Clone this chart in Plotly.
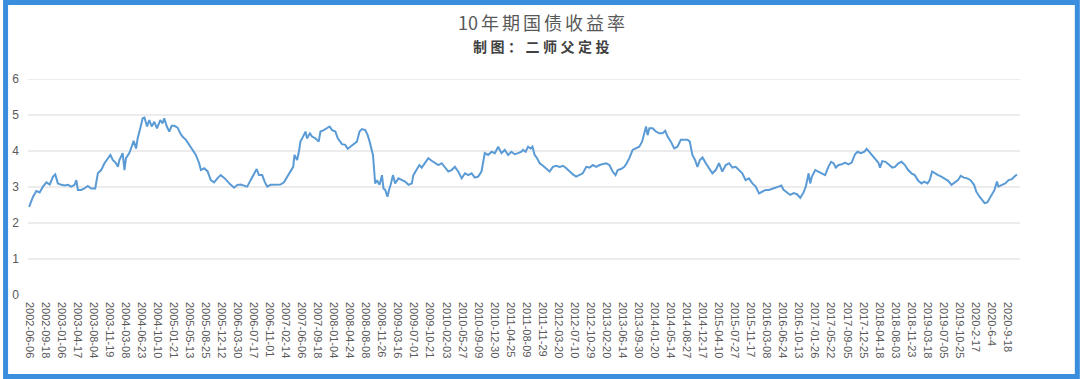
import plotly.graph_objects as go

# ---------------- data ----------------
tick_labels = [
    "2002-06-06", "2002-09-18", "2003-01-06", "2003-04-17", "2003-08-04", "2003-11-19",
    "2004-03-08", "2004-06-23", "2004-10-10", "2005-01-21", "2005-05-13", "2005-08-25",
    "2005-12-12", "2006-03-30", "2006-07-17", "2006-11-01", "2007-02-14", "2007-06-06",
    "2007-09-18", "2008-01-04", "2008-04-24", "2008-08-08", "2008-11-26", "2009-03-16",
    "2009-07-01", "2009-10-21", "2010-02-03", "2010-05-27", "2010-09-09", "2010-12-30",
    "2011-04-25", "2011-08-09", "2011-11-29", "2012-03-20", "2012-07-10", "2012-10-29",
    "2013-02-20", "2013-06-14", "2013-09-30", "2014-01-20", "2014-05-14", "2014-08-27",
    "2014-12-17", "2015-04-10", "2015-07-27", "2015-11-17", "2016-03-08", "2016-06-24",
    "2016-10-13", "2017-01-26", "2017-05-22", "2017-09-05", "2017-12-25", "2018-04-18",
    "2018-08-03", "2018-11-23", "2019-03-18", "2019-07-05", "2019-10-25", "2020-2-17",
    "2020-6-4", "2020-9-18",
]
label_step = 73  # trading days between labelled categories

trade_day = [
    0, 18, 33, 48, 63, 79, 94, 109, 119, 131, 147, 162, 177, 192, 207, 215, 222, 237, 252, 267,
    283, 301, 313, 328, 343, 358, 370, 381, 396, 404, 411, 426, 434, 441, 456, 464, 476, 487, 494, 506,
    517, 525, 537, 547, 558, 570, 582, 597, 608, 615, 627, 638, 649, 661, 676, 688, 698, 714, 729, 744,
    759, 774, 782, 797, 812, 827, 842, 857, 872, 887, 903, 918, 933, 948, 963, 978, 993, 1008, 1024, 1036,
    1046, 1061, 1072, 1084,
    1099, 1114, 1129, 1144, 1160, 1175, 1190, 1202, 1208, 1220, 1228, 1235, 1247, 1258, 1265, 1278, 1288,
    1303, 1318, 1326, 1341, 1356, 1368, 1379, 1394, 1405, 1414, 1424, 1439, 1450, 1462, 1477, 1492, 1504,
    1515, 1530, 1541, 1550, 1556, 1565, 1571, 1575, 1583, 1595, 1606, 1613, 1621, 1631, 1640, 1646, 1656,
    1666, 1681, 1696, 1711, 1727, 1742, 1749, 1764, 1776, 1787, 1802, 1817, 1832, 1848, 1863, 1878, 1893,
    1908, 1923, 1938, 1953, 1969, 1984, 1999, 2014, 2029, 2044, 2059, 2074, 2089, 2105, 2120, 2135, 2150,
    2165, 2180, 2195, 2210, 2226, 2241,
    2248, 2260, 2271, 2282, 2291, 2301, 2312, 2324, 2339, 2354, 2369, 2384, 2399, 2415, 2430, 2445, 2460,
    2475, 2490, 2505, 2520, 2536, 2551, 2566, 2581, 2596, 2611, 2626, 2641, 2656, 2669, 2679, 2694, 2709,
    2720, 2732, 2747, 2762, 2777, 2790, 2800, 2808, 2815, 2823, 2838, 2853, 2868, 2883, 2895, 2906, 2921,
    2936, 2951, 2966, 2982, 2997, 3007, 3019, 3031, 3042, 3053, 3065, 3080, 3095, 3110, 3125, 3140, 3155,
    3171, 3186, 3201, 3216, 3231, 3246, 3261, 3276, 3292, 3307, 3322, 3337, 3352, 3367,
    3381, 3396, 3411, 3424, 3434, 3449, 3464, 3480, 3495, 3510, 3525, 3535, 3548, 3555, 3563, 3578, 3593,
    3608, 3623, 3638, 3650, 3661, 3672, 3684, 3699, 3714, 3729, 3744, 3759, 3771, 3786, 3802, 3812, 3823,
    3835, 3850, 3865, 3873, 3883, 3898, 3913, 3929, 3941, 3956, 3971, 3986, 4001, 4016, 4031, 4047, 4062,
    4074, 4089, 4099, 4110, 4122, 4137, 4152, 4168, 4183, 4198, 4213, 4228, 4240, 4255, 4270, 4285, 4301,
    4311, 4326, 4337, 4349, 4361, 4372, 4382, 4394, 4405, 4412, 4428, 4443, 4458, 4473, 4485, 4496,
]

yield_pct = [
    2.45, 2.73, 2.89, 2.85, 3.01, 3.13, 3.07, 3.29, 3.35, 3.10, 3.06, 3.04, 3.06, 3.01, 3.06, 3.19, 2.92, 2.92, 2.96, 3.03,
    2.96, 2.96, 3.38, 3.47, 3.66, 3.80, 3.89, 3.75, 3.66, 3.56, 3.75, 3.94, 3.47, 3.80, 3.94, 4.07, 4.28, 4.07, 4.35, 4.63,
    4.91, 4.93, 4.68, 4.86, 4.68, 4.81, 4.63, 4.86, 4.77, 4.91, 4.68, 4.54, 4.70, 4.70, 4.65, 4.49, 4.40, 4.31, 4.17, 4.03,
    3.89, 3.66, 3.47, 3.52, 3.44, 3.19, 3.13, 3.24, 3.33, 3.26, 3.15, 3.06, 2.98, 3.06, 3.07, 3.04, 3.01, 3.19, 3.38, 3.50,
    3.33, 3.33, 3.15, 3.01,
    3.06, 3.07, 3.06, 3.07, 3.13, 3.29, 3.43, 3.56, 3.89, 3.75, 3.98, 4.26, 4.40, 4.54, 4.35, 4.49, 4.40,
    4.35, 4.26, 4.54, 4.58, 4.63, 4.68, 4.58, 4.54, 4.35, 4.26, 4.19, 4.17, 4.06, 4.12, 4.19, 4.26, 4.54,
    4.61, 4.58, 4.44, 4.26, 4.07, 3.89, 3.43, 3.10, 3.19, 3.06, 3.33, 2.96, 2.92, 2.73, 2.96, 3.07, 3.33,
    3.10, 3.24, 3.19, 3.15, 3.06, 3.10, 3.33, 3.47, 3.61, 3.54, 3.66, 3.80, 3.73, 3.66, 3.61, 3.66, 3.56,
    3.43, 3.47, 3.56, 3.43, 3.24, 3.38, 3.33, 3.38, 3.26, 3.29, 3.43, 3.94, 3.89, 3.98, 3.94, 4.12, 3.94,
    4.03, 3.89, 3.98, 3.91, 3.94, 3.98,
    4.03, 3.98, 4.12, 4.07, 4.12, 3.89, 3.80, 3.66, 3.59, 3.52, 3.43, 3.56, 3.59, 3.56, 3.59, 3.52, 3.43,
    3.35, 3.29, 3.33, 3.38, 3.56, 3.54, 3.61, 3.56, 3.61, 3.63, 3.66, 3.61, 3.43, 3.33, 3.47, 3.50, 3.56,
    3.66, 3.80, 4.03, 4.07, 4.12, 4.26, 4.49, 4.68, 4.44, 4.63, 4.63, 4.54, 4.49, 4.49, 4.56, 4.40, 4.26,
    4.07, 4.12, 4.31, 4.31, 4.31, 4.26, 3.89, 3.75, 3.56, 3.75, 3.82, 3.66, 3.52, 3.38, 3.47, 3.66, 3.43,
    3.61, 3.66, 3.54, 3.56, 3.47, 3.38, 3.19, 3.24, 3.10, 3.01, 2.82, 2.87, 2.92, 2.92,
    2.94, 2.98, 3.01, 3.04, 2.92, 2.85, 2.78, 2.83, 2.80, 2.70, 2.85, 3.01, 3.38, 3.10, 3.29, 3.47, 3.43,
    3.38, 3.33, 3.56, 3.70, 3.66, 3.54, 3.61, 3.63, 3.68, 3.63, 3.68, 3.91, 3.98, 3.94, 3.98, 4.06, 3.98,
    3.89, 3.80, 3.68, 3.54, 3.72, 3.70, 3.61, 3.54, 3.56, 3.66, 3.70, 3.61, 3.47, 3.38, 3.33, 3.17, 3.10,
    3.15, 3.10, 3.19, 3.43, 3.38, 3.33, 3.29, 3.24, 3.17, 3.06, 3.13, 3.19, 3.31, 3.26, 3.24, 3.19, 3.06,
    2.87, 2.73, 2.64, 2.55, 2.57, 2.69, 2.82, 2.92, 3.15, 3.01, 3.06, 3.10, 3.19, 3.22, 3.29, 3.35,
]

y_ticks = [0, 1, 2, 3, 4, 5, 6]
title_text = "10年期国债收益率"
subtitle_text = "制图：二师父定投"

# ---------------- layout constants ----------------
W, H = 1080, 379
ML, MR, MT, MB = 25, 60, 79, 84
PW, PH = W - ML - MR, H - MT - MB


def px_to_paper_x(px):
    return (px - ML) / PW


def px_to_paper_y(py):
    return (H - MB - py) / PH


grey = "#595959"
frame_color = "#3B8EDD"

fig = go.Figure()
fig.add_trace(go.Scatter(
    x=trade_day, y=yield_pct, mode="lines",
    line=dict(color="#5B9BD5", width=2),
    hoverinfo="skip", showlegend=False,
))

shapes = []
for v in y_ticks[1:]:
    shapes.append(dict(type="line", xref="paper", yref="y", x0=0, x1=1, y0=v, y1=v,
                       line=dict(color="#D9D9D9", width=1), layer="below"))
# outer blue frame
shapes.append(dict(type="rect", xref="paper", yref="paper",
                   x0=px_to_paper_x(2.5), x1=px_to_paper_x(W - 2.5),
                   y0=px_to_paper_y(H - 2.5), y1=px_to_paper_y(2.5),
                   line=dict(color=frame_color, width=5), fillcolor="rgba(0,0,0,0)", layer="above"))

annotations = [
    dict(text="\u2006".join(["10"] + list(title_text[2:])), xref="paper", yref="paper",
         x=px_to_paper_x(540), y=px_to_paper_y(22), xanchor="center", yanchor="middle",
         showarrow=False, font=dict(family="Noto Sans CJK SC", size=18, color=grey)),
    dict(text="\u2005".join(list(subtitle_text)), xref="paper", yref="paper",
         x=px_to_paper_x(540), y=px_to_paper_y(46), xanchor="center", yanchor="middle",
         showarrow=False, font=dict(family="Noto Sans CJK SC", size=14, color="#404040", weight=700)),
]

fig.update_layout(
    width=W, height=H, autosize=False,
    margin=dict(l=ML, r=MR, t=MT, b=MB, pad=0),
    paper_bgcolor="white", plot_bgcolor="white",
    shapes=shapes, annotations=annotations,
    xaxis=dict(
        range=[-5, 4510], tickmode="array",
        tickvals=[i * label_step for i in range(len(tick_labels))],
        ticktext=tick_labels, tickangle=90,
        tickfont=dict(family="Liberation Sans", size=11, color=grey),
        showgrid=False, zeroline=False, showline=False, ticks="",
        ticklabelstandoff=6,
    ),
    yaxis=dict(
        range=[0, 6], tickmode="array", tickvals=y_ticks,
        tickfont=dict(family="Liberation Sans", size=12, color=grey),
        showgrid=False, zeroline=False, showline=False, ticks="",
        ticklabelstandoff=8,
    ),
)

fig.write_html("out.html")
